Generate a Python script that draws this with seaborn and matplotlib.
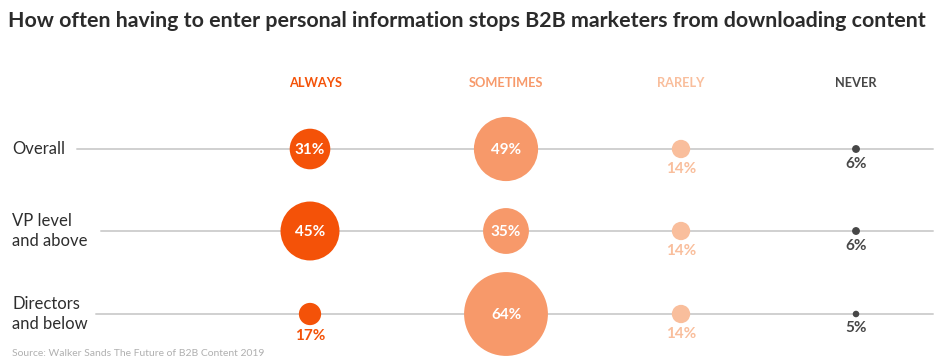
import numpy as np
import pandas as pd
import matplotlib
matplotlib.use("Agg")
import matplotlib.pyplot as plt
import seaborn as sns

# Data
groups = ["Overall", "VP level\nand above", "Directors\nand below"]
answers = ["ALWAYS", "SOMETIMES", "RARELY", "NEVER"]
always = [31, 45, 17]
sometimes = [49, 35, 64]
rarely = [14, 14, 14]
never = [6, 6, 5]
source = "Source: Walker Sands The Future of B2B Content 2019"
title = "How often having to enter personal information stops B2B marketers from downloading content"

# Layout (pixel positions on a 939x364 canvas)
W, H = 939, 364
col_x = [310, 506, 681, 856]
row_y = [149, 231, 314]
line_start = [77, 101, 96]
line_end = 933
px_per_pct = 1.31  # bubble diameter in px per percentage point

colors = {"ALWAYS": "#F45208", "SOMETIMES": "#F7996A", "RARELY": "#F9BE9C", "NEVER": "#474747"}

rows = []
for a, vals in zip(answers, [always, sometimes, rarely, never]):
    for g, v in zip(groups, vals):
        rows.append({"group": g, "answer": a, "value": v})
df = pd.DataFrame(rows)
df["x"] = df["answer"].map(dict(zip(answers, col_x)))
df["y"] = df["group"].map(dict(zip(groups, row_y)))
df["area"] = df["value"] ** 2

sns.set_theme(style="white")
plt.rcParams["font.family"] = ["Lato", "DejaVu Sans"]

fig = plt.figure(figsize=(W / 100, H / 100), dpi=100)
ax = fig.add_axes([0, 0, 1, 1])

# Row lines
for y, x0 in zip(row_y, line_start):
    ax.plot([x0, line_end], [y, y], color="#d0d0d0", lw=1.4, zorder=1)

vmax = df["value"].max()
max_area = (vmax * px_per_pct * 0.72) ** 2
sns.scatterplot(data=df, x="x", y="y", hue="answer", palette=colors,
                size="area", sizes=(0, max_area), size_norm=(0, vmax ** 2),
                linewidth=0, legend=False, ax=ax, zorder=3)
ax.set_xlim(0, W)
ax.set_ylim(H, 0)
ax.axis("off")

# Value labels
for _, r in df.iterrows():
    rad = r["value"] * px_per_pct / 2
    txt = f"{r['value']}%"
    if rad >= 18:
        ax.text(r["x"], r["y"] + 1, txt, color="white", fontsize=11, fontweight="bold",
                ha="center", va="center", zorder=4)
    else:
        ax.text(r["x"], r["y"] + rad + 11, txt, color=colors[r["answer"]], fontsize=11,
                fontweight="bold", ha="center", va="center", zorder=4)

# Column headers
for a, x in zip(answers, col_x):
    ax.text(x + (6 if a == "ALWAYS" else 0), 83, a, color=colors[a], fontsize=9.2,
            fontweight="bold", ha="center", va="center")

# Row labels
for g, y in zip(groups, row_y):
    ax.text(12, y, g, color="#2e2e2e", fontsize=12, ha="left", va="center", linespacing=1.35)

ax.text(8, 21, title, color="#2b2b2b", fontsize=15.4, fontweight="bold", ha="left", va="center")
ax.text(12, 353, source, color="#b0b0b0", fontsize=7.5, ha="left", va="center")

fig.savefig("out.png", dpi=100)
